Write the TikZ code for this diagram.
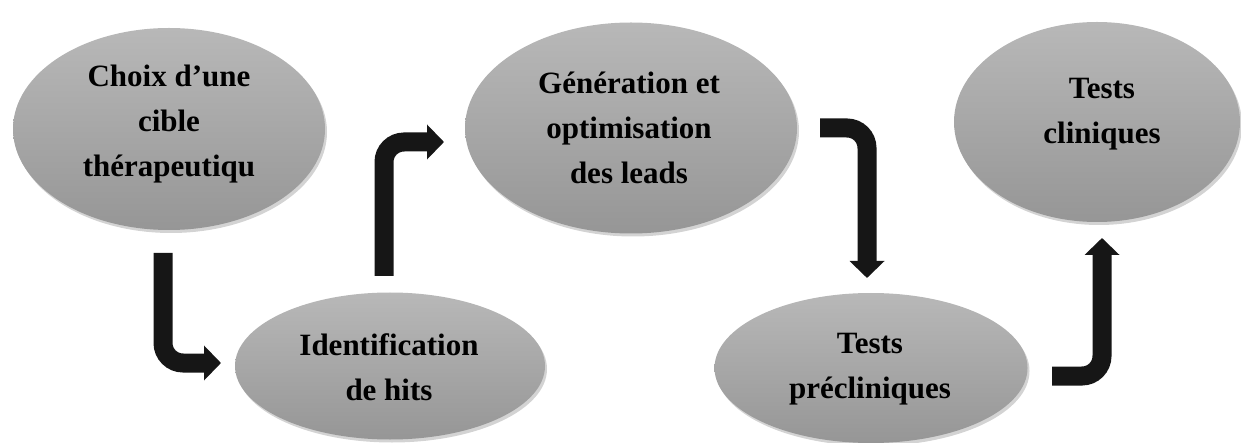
\documentclass[tikz,border=0pt]{standalone}
\usepackage{fontspec}
\setmainfont{Liberation Serif}
\usetikzlibrary{shapes.geometric,shadows,arrows.meta}
\definecolor{elltop}{RGB}{184,184,184}
\definecolor{ellbot}{RGB}{150,150,150}
\definecolor{arrowcol}{RGB}{22,22,22}
\begin{document}
\begin{tikzpicture}[x=1pt,y=-1pt,
  stage/.style={ellipse, inner sep=0pt, top color=elltop, bottom color=ellbot,
    drop shadow={shadow xshift=2pt,shadow yshift=-3pt,opacity=0.35}},
  stagetext/.style={font=\fontsize{31}{45}\selectfont\bfseries, align=center,
    text=black, inner sep=0pt},
  bendarrow/.style={line width=19pt, draw=arrowcol, rounded corners=20pt,
    -{Triangle[width=34pt,length=17pt]}}]
\useasboundingbox (0,0) rectangle (1241,443);

\node[stage, minimum width=312pt, minimum height=202pt] (choix) at (169,129) {};
\node[stage, minimum width=310pt, minimum height=147pt] (ident) at (390,366) {};
\node[stage, minimum width=332pt, minimum height=211pt] (gen) at (631,128) {};
\node[stage, minimum width=313pt, minimum height=150pt] (precl) at (871,368) {};
\node[stage, minimum width=286pt, minimum height=200pt] (clin) at (1097,122) {};

\node[stagetext] (choixt) at (169,124) {Choix d’une\\cible\\thérapeutiqu};
\node[stagetext] (identt) at (389,367) {Identification\\de hits};
\node[stagetext] (gent) at (629,128) {Génération et\\optimisation\\des leads};
\node[stagetext] (preclt) at (870,369) {Tests\\précliniques};
\node[stagetext] (clint) at (1102,114) {Tests\\cliniques};

\coordinate (a1s) at (163,253);
\coordinate (a1b) at (163,363);
\coordinate (a1e) at (221,363);
\coordinate (a2s) at (384,276);
\coordinate (a2b) at (384,142);
\coordinate (a2e) at (444,142);
\coordinate (a3s) at (820,128);
\coordinate (a3b) at (867,128);
\coordinate (a3e) at (867,278);
\coordinate (a4s) at (1052,376);
\coordinate (a4b) at (1102,376);
\coordinate (a4e) at (1102,238);

\draw[bendarrow] (a1s) -- (a1b) -- (a1e);
\draw[bendarrow] (a2s) -- (a2b) -- (a2e);
\draw[bendarrow] (a3s) -- (a3b) -- (a3e);
\draw[bendarrow] (a4s) -- (a4b) -- (a4e);
\end{tikzpicture}
\end{document}
